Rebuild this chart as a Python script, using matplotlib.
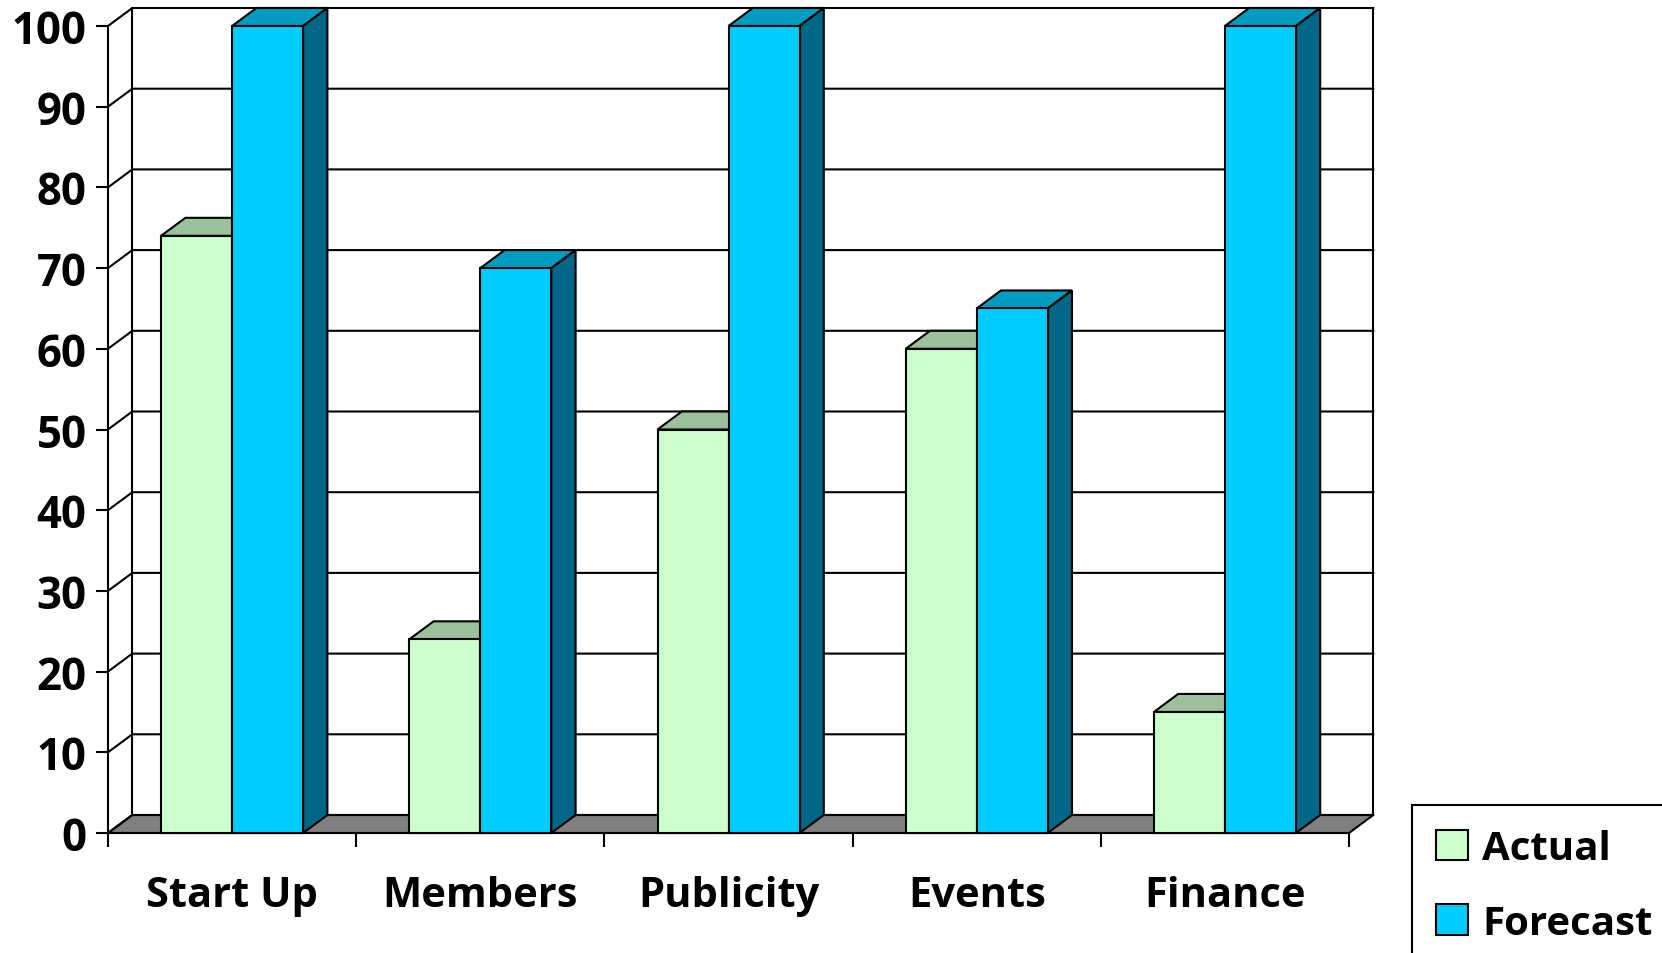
import matplotlib
matplotlib.use('Agg')
import matplotlib.pyplot as plt
from matplotlib.patches import Patch, Polygon
import numpy as np

categories = ['Start Up', 'Members', 'Publicity', 'Events', 'Finance']
actual = [74, 24, 50, 60, 15]
forecast = [100, 70, 100, 65, 100]
y_ticks = [0, 10, 20, 30, 40, 50, 60, 70, 80, 90, 100]

plt.rcParams['font.family'] = ['Open Sans', 'DejaVu Sans']
plt.rcParams['font.weight'] = 'bold'

W, H = 1662, 954
fig = plt.figure(figsize=(W / 100, H / 100), dpi=100, facecolor='white')
# plot box in pixels: x 108-1349, y 27-834
ax = fig.add_axes([108 / W, 1 - 834 / H, 1241 / W, 807 / H])
ax.set_xlim(0, 5)
ax.set_ylim(0, 100)

LW = 1.5
DX = 24.3 / (1241 / 5)
DY = 18 / (807 / 100)
BAR_W = 71 / (1241 / 5)

for s in ['top', 'right']:
    ax.spines[s].set_visible(False)
for s in ['left', 'bottom']:
    ax.spines[s].set_linewidth(LW)

# back wall and floor
ax.add_patch(Polygon([(0, 0), (DX, DY), (5 + DX, DY), (5, 0)], closed=True,
                     facecolor='#808080', edgecolor='black', lw=LW, zorder=1, clip_on=False))
for v in y_ticks:
    ax.plot([0, DX, 5 + DX], [v, v + DY, v + DY], color='black', lw=LW, zorder=1, clip_on=False)
ax.plot([DX, DX], [DY, 100 + DY], color='black', lw=LW, zorder=1, clip_on=False)
ax.plot([5 + DX, 5 + DX], [DY, 100 + DY], color='black', lw=LW, zorder=1, clip_on=False)


def bar_3d(x, values, front, top, side, z):
    ax.bar(x, values, BAR_W, color=front, edgecolor='black', lw=LW, zorder=z + 0.2, clip_on=False)
    for xi, v in zip(x, values):
        l, r = xi - BAR_W / 2, xi + BAR_W / 2
        ax.add_patch(Polygon([(l, v), (l + DX, v + DY), (r + DX, v + DY), (r, v)], closed=True,
                             facecolor=top, edgecolor='black', lw=LW, zorder=z, clip_on=False))
        ax.add_patch(Polygon([(r, 0), (r + DX, DY), (r + DX, v + DY), (r, v)], closed=True,
                             facecolor=side, edgecolor='black', lw=LW, zorder=z, clip_on=False))


centers = np.arange(len(categories)) + 0.5
bar_3d(centers - BAR_W / 2, actual, '#CCFFCC', '#9CC09C', '#669966', 3)
bar_3d(centers + BAR_W / 2, forecast, '#00CCFF', '#009CBF', '#006685', 4)

ax.set_yticks(y_ticks)
ax.set_xticks(np.arange(6))
ax.set_xticklabels([])
ax.set_xticks(centers, categories, minor=True)
ax.tick_params(axis='y', length=9, width=LW, pad=6.5, labelsize=31.5)
ax.tick_params(axis='x', which='major', length=10, width=LW)
ax.tick_params(axis='x', which='minor', length=0, pad=30, labelsize=30)

handles = [Patch(facecolor='#CCFFCC', edgecolor='black', lw=LW),
           Patch(facecolor='#00CCFF', edgecolor='black', lw=LW)]
leg = ax.legend(handles, ['Actual', 'Forecast'], loc='upper left',
                bbox_to_anchor=(1412 / W, 1 - 806 / H), bbox_transform=fig.transFigure,
                fontsize=29, frameon=True, fancybox=False, edgecolor='black',
                framealpha=1, borderpad=0.6, borderaxespad=0, handlelength=0.78,
                handleheight=0.78, handletextpad=0.36, labelspacing=0.88)
leg.get_frame().set_linewidth(LW)

fig.savefig('out.png', dpi=100)
